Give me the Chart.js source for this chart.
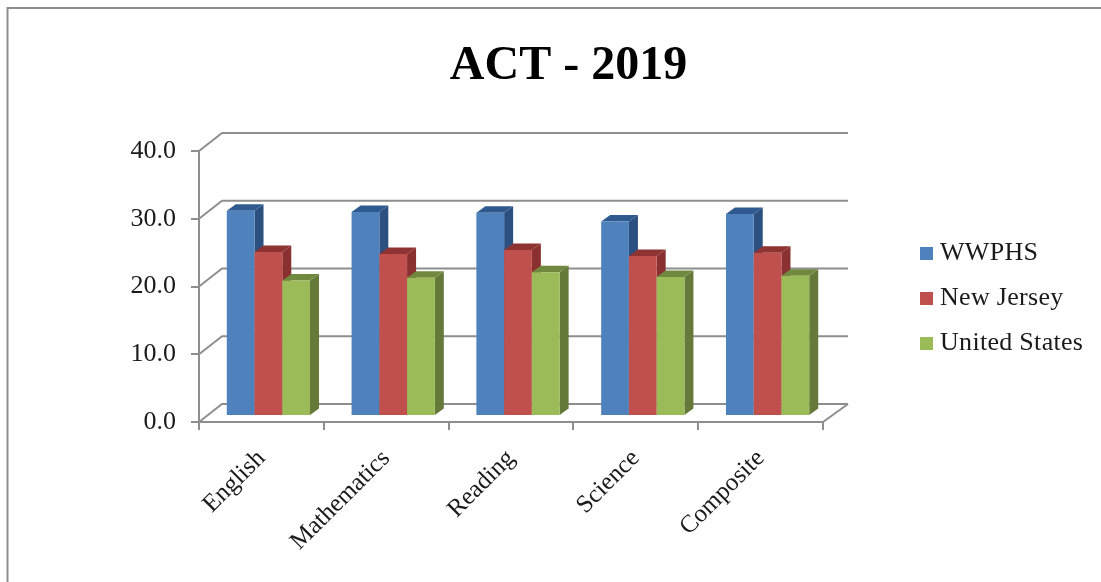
<!DOCTYPE html>
<html>
<head>
<meta charset="utf-8">
<style>
html,body{margin:0;padding:0;background:#fff;overflow:hidden}
canvas{display:block;filter:blur(0.45px)}
</style>
<script src="https://cdn.jsdelivr.net/npm/chart.js@4"></script>
</head>
<body>
<canvas id="c" width="1101" height="582"></canvas>
<script>
const categories = ["English","Mathematics","Reading","Science","Composite"];
const wwphs = [30.3,30.1,30.0,28.7,29.8];
const newJersey = [24.2,23.9,24.5,23.6,24.1];
const unitedStates = [20.0,20.4,21.2,20.5,20.7];
const seriesNames = ["WWPHS","New Jersey","United States"];
const frontColors = ["#4F81BD","#C0504D","#9BBB59"];
const topColors = ["#2F5A8F","#8E3232","#71893F"];
const sideColors = ["#2C5080","#8A3030","#657A38"];
const serif = "'Liberation Serif','Times New Roman',serif";
const axisColor = "#8E8E8E";

function swatch(color){
  const cv=document.createElement('canvas');cv.width=19;cv.height=13;
  const g=cv.getContext('2d');g.fillStyle=color;g.fillRect(6,0,13,13);return cv;
}
function poly(ctx,pts,color){
  ctx.beginPath();pts.forEach((p,i)=>i?ctx.lineTo(p[0],p[1]):ctx.moveTo(p[0],p[1]));
  ctx.closePath();ctx.fillStyle=color;ctx.fill();
}
const depth3d = {
  id:'depth3d',
  afterLayout(chart){
    const l=chart.legend, h=l.height;
    l.left=901;l.right=l.left+l.width;l.top=221;l.bottom=l.top+h;
    if(!l._spaced){
      l._spaced=true;
      const d=l.draw;
      l.draw=function(){const c=this.ctx;c.save();c.letterSpacing='0.3px';d.apply(this,arguments);c.restore();};
    }
    const t=chart.titleBlock;t.left+=157;t.right+=157;
  },
  beforeDraw(chart){
    const c=chart.ctx;c.save();c.fillStyle='#fff';c.fillRect(0,0,chart.width,chart.height);
    c.strokeStyle='#8E8E8E';c.lineWidth=2;c.beginPath();c.moveTo(7.5,582);c.lineTo(7.5,8);c.lineTo(1101,8);c.stroke();c.restore();
  },
  beforeDatasetsDraw(chart){
    const c=chart.ctx,y=chart.scales.y,a=chart.chartArea;
    const bx=23,by=-18;
    c.save();c.strokeStyle=axisColor;c.lineWidth=2;c.lineJoin='round';
    y.ticks.forEach(t=>{
      const p=y.getPixelForValue(t.value);
      c.beginPath();c.moveTo(a.left,p);c.lineTo(a.left+bx,p+by);c.lineTo(a.right+bx+2,p+by);c.stroke();
    });
    c.beginPath();c.moveTo(a.right,a.bottom);c.lineTo(a.right+bx+2,a.bottom+by);c.stroke();
    c.restore();
    const dx=7,dy=-6,sx=9,sy=-6.5;
    c.save();c.translate(dx,dy);
    for(let i=0;i<3;i++){
      chart.getDatasetMeta(i).data.forEach(b=>{
        const w=b.width,l=b.x-w/2,r=b.x+w/2,t=b.y,bt=b.base;
        poly(c,[[r,t],[r+sx,t+sy],[r+sx,bt+sy],[r,bt]],sideColors[i]);
        poly(c,[[l,t],[l+sx,t+sy],[r+sx,t+sy],[r,t]],topColors[i]);
        b.draw(c,a);
      });
    }
    c.restore();
    return false;
  }
};
const datasetValues=[wwphs,newJersey,unitedStates];
new Chart(document.getElementById('c'),{
  type:'bar',
  data:{labels:categories,datasets:seriesNames.map((n,i)=>({label:n,data:datasetValues[i],backgroundColor:frontColors[i],borderWidth:0,categoryPercentage:0.667,barPercentage:1}))},
  plugins:[depth3d],
  options:{
    responsive:false,animation:false,
    layout:{autoPadding:false,padding:{left:0,top:0,right:278,bottom:0}},
    plugins:{
      tooltip:{enabled:false},
      title:{display:true,text:"ACT - 2019",color:"#000",font:{family:serif,size:48,weight:'bold',lineHeight:1.2},padding:{top:38,bottom:55.4}},
      legend:{position:'chartArea',align:'start',onClick:null,labels:{
        font:{family:serif,size:26},color:"#1a1a1a",usePointStyle:true,pointStyleWidth:7,boxHeight:13,padding:19,
        generateLabels(chart){return seriesNames.map((n,i)=>({text:n,pointStyle:swatch(frontColors[i]),fillStyle:frontColors[i],strokeStyle:frontColors[i],lineWidth:0,datasetIndex:i,hidden:false,fontColor:"#1a1a1a"}));}
      }}
    },
    scales:{
      x:{
        afterFit(s){s.height=160;},
        grid:{offset:true,drawOnChartArea:false,color:axisColor,lineWidth:2,tickLength:8},
        border:{color:axisColor,width:2},
        ticks:{color:"#1a1a1a",font:{family:serif,size:25},minRotation:45,maxRotation:45,padding:14,autoSkip:false}
      },
      y:{
        min:0,max:40,
        afterFit(s){s.width=199;},
        grid:{drawOnChartArea:false,color:axisColor,lineWidth:2,tickLength:8},
        border:{color:axisColor,width:2},
        ticks:{stepSize:10,color:"#1a1a1a",font:{family:serif,size:26},padding:15,callback:v=>v.toFixed(1)}
      }
    }
  }
});
</script>
</body>
</html>
